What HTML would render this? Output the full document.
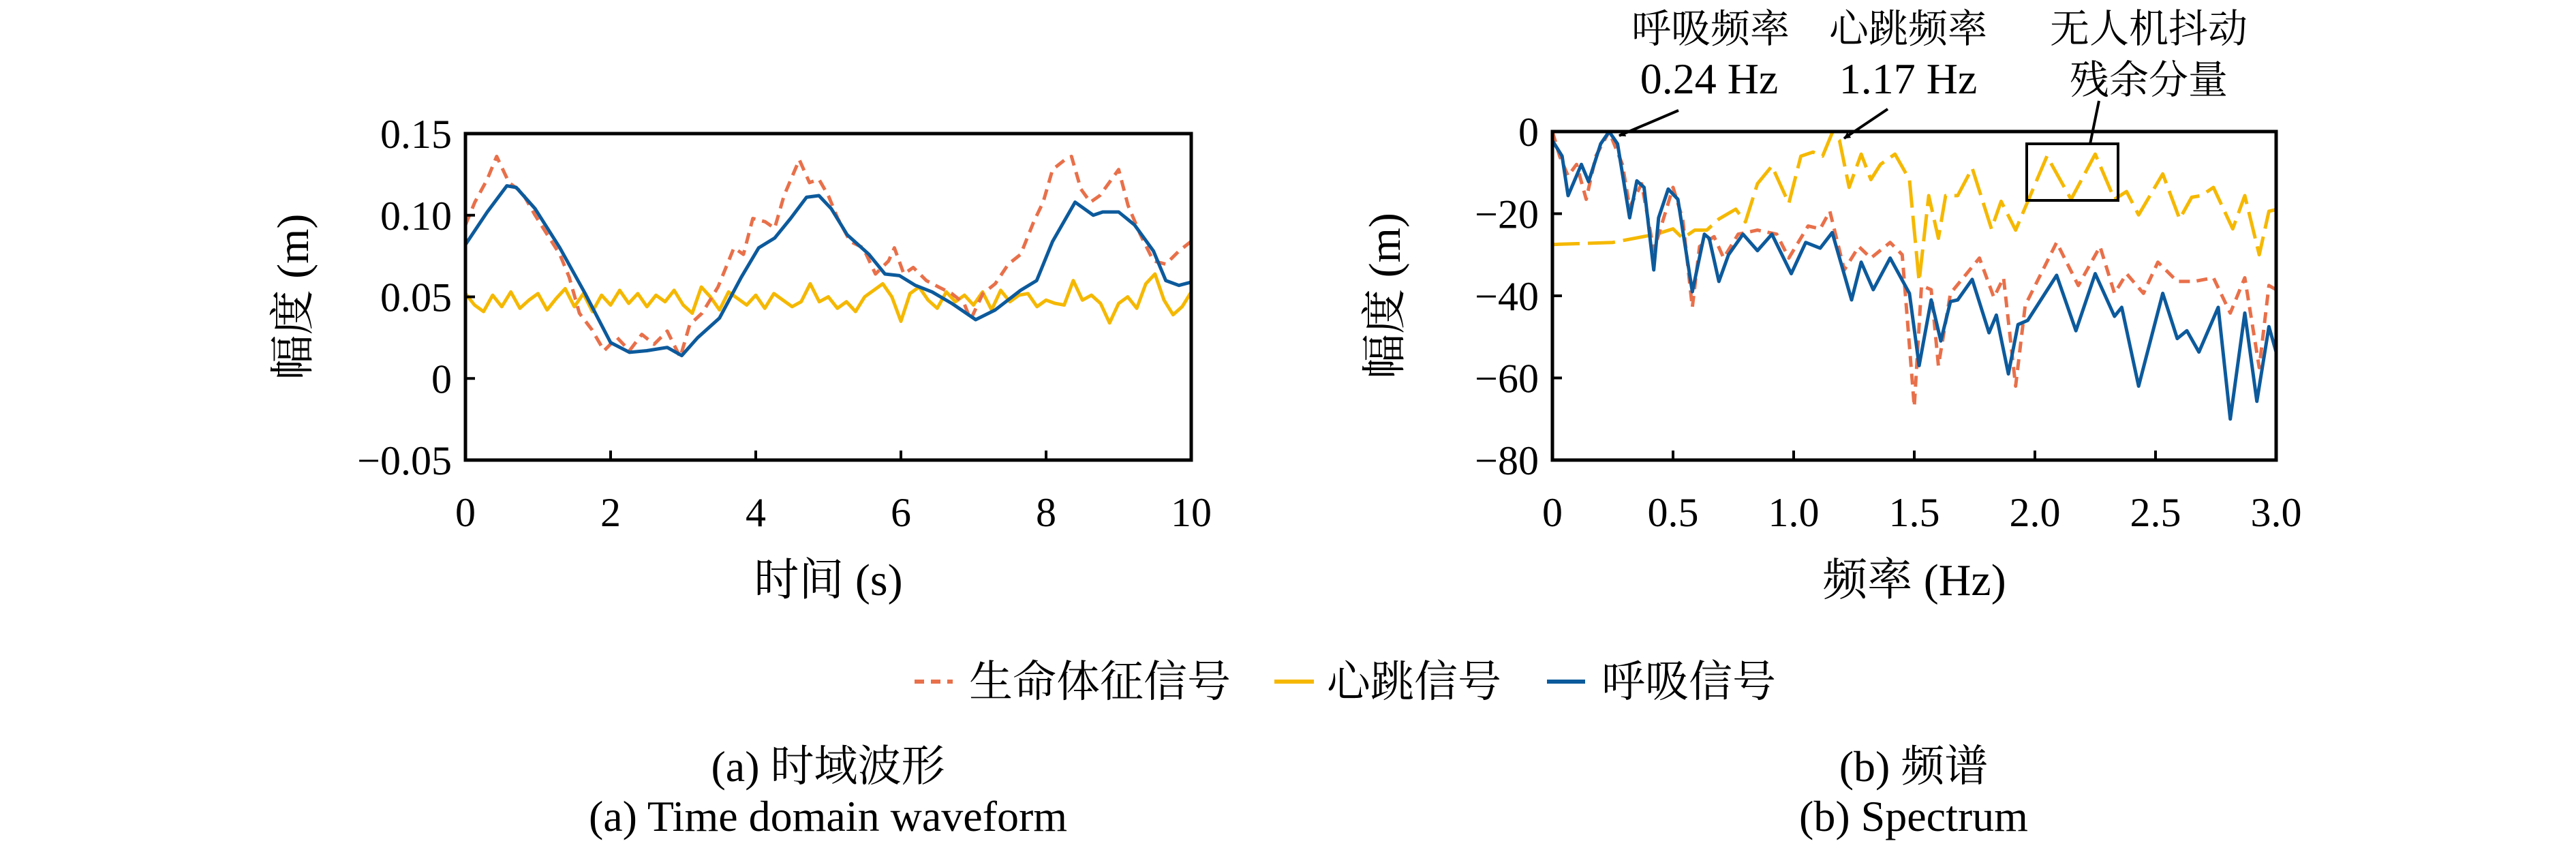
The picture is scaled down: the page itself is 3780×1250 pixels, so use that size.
<!DOCTYPE html>
<html><head><meta charset="utf-8"><style>
html,body{margin:0;padding:0;background:#fff;}
svg{display:block;}
text{font-family:"Liberation Serif","Noto Serif CJK SC",serif;fill:#000;}
</style></head><body>
<svg id="fig" width="3780" height="1250" xmlns="http://www.w3.org/2000/svg">
<defs><marker id="ah" markerWidth="10" markerHeight="10" refX="9" refY="5" orient="auto" markerUnits="userSpaceOnUse" viewBox="0 0 10 10"><path d="M0,0 L10,5 L0,10 z" fill="#000"/></marker></defs>
<g id="left"></g>
<g id="right"></g>
<g font-size="64">
 <line x1="1342" y1="1000" x2="1398" y2="1000" stroke="#E8704A" stroke-width="6" stroke-dasharray="14,10"/>
 <text x="1422" y="1022">生命体征信号</text>
 <line x1="1870" y1="1000" x2="1928" y2="1000" stroke="#F5B800" stroke-width="6"/>
 <text x="1947" y="1022">心跳信号</text>
 <line x1="2270" y1="1000" x2="2326" y2="1000" stroke="#0C5A9C" stroke-width="6"/>
 <text x="2350" y="1022">呼吸信号</text>
</g>
<g font-size="64" text-anchor="middle">
 <text x="1215" y="1146">(a) 时域波形</text>
 <text x="1215" y="1219">(a) Time domain waveform</text>
 <text x="2808" y="1146">(b) 频谱</text>
 <text x="2808" y="1219">(b) Spectrum</text>
</g>
<g text-anchor="middle">
 <text x="2510" y="62" font-size="58">呼吸频率</text>
 <text x="2508" y="137" font-size="64">0.24 Hz</text>
 <text x="2800" y="62" font-size="58">心跳频率</text>
 <text x="2800" y="137" font-size="64">1.17 Hz</text>
 <text x="3153" y="62" font-size="58">无人机抖动</text>
 <text x="3153" y="137" font-size="58">残余分量</text>
 <line x1="2463" y1="162" x2="2376" y2="199" stroke="#000" stroke-width="4" marker-end="url(#ah)"/>
 <line x1="2770" y1="160" x2="2706" y2="203" stroke="#000" stroke-width="4" marker-end="url(#ah)"/>
 <rect x="2974" y="211" width="134" height="83" fill="none" stroke="#000" stroke-width="4"/>
 <line x1="3080" y1="148" x2="3067" y2="211" stroke="#000" stroke-width="4"/>
</g>
</svg>
<script>
// ---- Left chart data ----
const tBreath=[0,0.3,0.57,0.7,0.96,1.3,1.65,2.0,2.26,2.5,2.78,2.98,3.2,3.5,3.8,4.04,4.26,4.48,4.7,4.87,5.04,5.26,5.56,5.78,5.98,6.2,6.43,6.7,7.03,7.3,7.65,7.87,8.09,8.4,8.65,8.78,9.0,9.22,9.48,9.65,9.83,10];
const vBreath=[0.082,0.102,0.118,0.117,0.104,0.080,0.052,0.022,0.016,0.017,0.019,0.014,0.025,0.037,0.062,0.080,0.086,0.098,0.111,0.112,0.104,0.088,0.076,0.064,0.063,0.057,0.053,0.046,0.036,0.042,0.054,0.060,0.084,0.108,0.100,0.102,0.102,0.094,0.078,0.060,0.057,0.059];
const tVital=[0,0.13,0.3,0.43,0.6,0.78,0.96,1.13,1.3,1.43,1.57,1.74,1.91,2.09,2.26,2.43,2.6,2.78,2.96,3.09,3.26,3.48,3.7,3.83,3.96,4.13,4.26,4.39,4.6,4.74,4.87,5.0,5.13,5.3,5.48,5.65,5.83,5.91,6.04,6.17,6.35,6.52,6.7,6.87,6.96,7.13,7.3,7.48,7.65,7.83,7.96,8.09,8.26,8.35,8.48,8.61,8.74,8.87,9.0,9.13,9.3,9.48,9.65,9.83,10];
const vVital=[0.094,0.108,0.122,0.136,0.120,0.114,0.100,0.088,0.076,0.062,0.040,0.030,0.017,0.025,0.017,0.027,0.021,0.029,0.013,0.033,0.040,0.056,0.080,0.076,0.098,0.096,0.092,0.112,0.134,0.120,0.122,0.112,0.098,0.084,0.080,0.064,0.072,0.080,0.064,0.068,0.060,0.056,0.052,0.046,0.036,0.052,0.058,0.070,0.076,0.096,0.108,0.128,0.134,0.136,0.116,0.108,0.112,0.120,0.128,0.106,0.088,0.072,0.070,0.078,0.084];
const tHeart=[0,0.125,0.25,0.375,0.5,0.625,0.75,0.875,1,1.125,1.25,1.375,1.5,1.625,1.75,1.875,2,2.125,2.25,2.375,2.5,2.625,2.75,2.875,3,3.125,3.25,3.375,3.5,3.625,3.75,3.875,4,4.125,4.25,4.375,4.5,4.625,4.75,4.875,5,5.125,5.25,5.375,5.5,5.625,5.75,5.875,6,6.125,6.25,6.375,6.5,6.625,6.75,6.875,7,7.125,7.25,7.375,7.5,7.625,7.75,7.875,8,8.125,8.25,8.375,8.5,8.625,8.75,8.875,9,9.125,9.25,9.375,9.5,9.625,9.75,9.875,10];
const vHeart=[0.052,0.045,0.041,0.051,0.044,0.053,0.043,0.048,0.052,0.042,0.049,0.055,0.044,0.052,0.041,0.051,0.045,0.054,0.046,0.052,0.044,0.051,0.047,0.054,0.045,0.040,0.056,0.050,0.042,0.053,0.049,0.045,0.051,0.043,0.052,0.048,0.044,0.047,0.058,0.047,0.050,0.043,0.047,0.041,0.050,0.054,0.058,0.050,0.035,0.052,0.056,0.048,0.043,0.053,0.047,0.051,0.045,0.053,0.042,0.054,0.047,0.051,0.052,0.044,0.048,0.046,0.045,0.060,0.048,0.051,0.046,0.034,0.046,0.050,0.043,0.058,0.064,0.048,0.039,0.044,0.053];
const xTicksL=[0,2,4,6,8,10];
const yTicksL=[-0.05,0,0.05,0.10,0.15];
const yLabelsL=["\u22120.05","0","0.05","0.10","0.15"];
// ---- Right chart data ----
const fBreath=[0,0.04,0.065,0.12,0.15,0.2,0.235,0.27,0.32,0.35,0.38,0.42,0.44,0.48,0.52,0.58,0.63,0.65,0.69,0.73,0.79,0.85,0.91,0.99,1.05,1.11,1.16,1.24,1.28,1.33,1.40,1.48,1.52,1.57,1.61,1.65,1.68,1.74,1.81,1.84,1.89,1.93,1.97,2.09,2.17,2.25,2.33,2.36,2.43,2.53,2.59,2.63,2.68,2.76,2.81,2.87,2.92,2.97,3.0];
const sBreath=[-2.2,-6,-15.6,-8,-12.2,-3,0,-3,-21,-12,-13.6,-33.7,-21,-14,-16.5,-39,-25,-26,-36.5,-30,-25,-29,-25,-34.6,-27,-28.4,-24.6,-41,-31.8,-38.5,-30.8,-39.4,-57,-41,-51,-41.4,-41,-36,-49,-44.7,-59,-47,-46,-35,-48.5,-34.6,-45,-42.8,-62,-39.4,-50.4,-48.5,-53.7,-42.8,-70,-44.2,-65.7,-47.5,-53.7];
const fVital=[0,0.03,0.065,0.1,0.14,0.18,0.235,0.29,0.32,0.37,0.42,0.5,0.54,0.58,0.61,0.67,0.71,0.77,0.85,0.93,0.98,1.06,1.11,1.15,1.21,1.27,1.32,1.4,1.45,1.50,1.53,1.57,1.60,1.65,1.77,1.83,1.87,1.92,1.96,2.09,2.18,2.27,2.33,2.38,2.45,2.51,2.59,2.66,2.74,2.81,2.87,2.93,2.97,3.0];
const sVital=[0,-6,-10.8,-8,-16.5,-6,0,-8,-18.4,-12.7,-29,-13.6,-21.3,-42.8,-28,-25.6,-30.8,-25,-24,-25,-30.8,-23,-23.7,-19.4,-33.7,-28,-30.8,-27,-30,-67,-37.5,-38.5,-57,-39.4,-30.8,-40.4,-35.6,-62,-42.3,-27,-37.5,-28,-39.4,-34.6,-39.4,-31.8,-36.5,-36.5,-35.6,-44.2,-35.6,-57.5,-37.5,-38.5];
const fHeart=[0,0.25,0.43,0.5,0.54,0.59,0.64,0.69,0.76,0.80,0.85,0.91,0.98,1.03,1.08,1.12,1.16,1.19,1.23,1.28,1.32,1.36,1.42,1.48,1.52,1.56,1.6,1.63,1.68,1.74,1.82,1.86,1.92,2.05,2.15,2.25,2.33,2.38,2.43,2.53,2.60,2.65,2.69,2.74,2.82,2.87,2.93,2.97,3.0];
const sHeart=[-27.5,-27,-25,-23.7,-26,-24,-24,-21.3,-18.9,-22,-12.7,-8.4,-17.5,-6,-5,-6,-0.3,-2.2,-13.6,-5.5,-11.7,-8,-5.5,-11.7,-36.5,-15.6,-26,-15.6,-15.6,-8.9,-23.7,-17,-24,-6,-16.5,-5.5,-16.5,-14.6,-20.3,-10.3,-21.3,-16,-15.6,-13.6,-23.7,-15.6,-30,-19.4,-19];
const xTicksR=[0,0.5,1.0,1.5,2.0,2.5,3.0];
const xLabelsR=["0","0.5","1.0","1.5","2.0","2.5","3.0"];
const yTicksR=[-80,-60,-40,-20,0];
const yLabelsR=["\u221280","\u221260","\u221240","\u221220","0"];

const NS="http://www.w3.org/2000/svg";
function mk(parent,tag,attrs){const e=document.createElementNS(NS,tag);for(const k in attrs)e.setAttribute(k,attrs[k]);parent.appendChild(e);return e;}

function drawChart(g,box,xd,yd,xt,xl,yt,yl,series,xlab,ylab,ylabX){
  const sx=v=>box.x0+(v-xd[0])/(xd[1]-xd[0])*(box.x1-box.x0);
  const sy=v=>box.y1-(v-yd[0])/(yd[1]-yd[0])*(box.y1-box.y0);
  const clip=mk(g,'clipPath',{id:g.id+'-clip'});
  mk(clip,'rect',{x:box.x0,y:box.y0-4,width:box.x1-box.x0,height:box.y1-box.y0+8});
  series.forEach(s=>{
    const pts=s.x.map((v,i)=>sx(v).toFixed(1)+','+sy(s.y[i]).toFixed(1)).join(' ');
    const pl=mk(g,'polyline',{points:pts,fill:'none',stroke:s.color,'stroke-width':5,'stroke-linejoin':'round','clip-path':'url(#'+g.id+'-clip)'});
    if(s.dash)pl.setAttribute('stroke-dasharray',s.dash);
    
    
  });
  const fr=mk(g,'rect',{x:box.x0,y:box.y0,width:box.x1-box.x0,height:box.y1-box.y0,fill:'none',stroke:'#000','stroke-width':5});
  
  
  xt.forEach((v,i)=>{
    const tk=mk(g,'line',{x1:sx(v),x2:sx(v),y1:box.y1,y2:box.y1-14,stroke:'#000','stroke-width':4});
    
    
    const t=mk(g,'text',{x:sx(v),y:box.y1+97,'font-size':60,'text-anchor':'middle'});
    t.textContent=xl[i];
    
    
  });
  yt.forEach((v,i)=>{
    const tk=mk(g,'line',{x1:box.x0,x2:box.x0+14,y1:sy(v),y2:sy(v),stroke:'#000','stroke-width':4});
    
    
    const t=mk(g,'text',{x:box.x0-20,y:sy(v)+21,'font-size':60,'text-anchor':'end'});
    t.textContent=yl[i];
    
    
  });
  const xa=mk(g,'text',{x:(box.x0+box.x1)/2,y:box.y1+198,'font-size':66,'text-anchor':'middle'});
  xa.textContent=xlab;
  
  
  const cy=(box.y0+box.y1)/2;
  const ya=mk(g,'text',{x:ylabX,y:cy,'font-size':66,'text-anchor':'middle',transform:'rotate(-90 '+ylabX+' '+cy+')'});
  ya.textContent=ylab;
  
  
}
drawChart(document.getElementById('left'),{x0:683,x1:1748,y0:196,y1:675},[0,10],[-0.05,0.15],
  xTicksL,xTicksL.map(String),yTicksL,yLabelsL,
  [{x:tHeart,y:vHeart,color:'#F5B800',name:'heart-signal-line'},
   {x:tVital,y:vVital,color:'#E8704A',dash:'16,10',name:'vital-signal-line'},
   {x:tBreath,y:vBreath,color:'#0C5A9C',name:'breath-signal-line'}],
  '时间 (s)','幅度 (m)',452);
drawChart(document.getElementById('right'),{x0:2278,x1:3340,y0:193,y1:675},[0,3],[-80,0],
  xTicksR,xLabelsR,yTicksR,yLabelsR,
  [{x:fHeart,y:sHeart,color:'#F5B800',dash:'40,12',name:'heart-spectrum-line'},
   {x:fVital,y:sVital,color:'#E8704A',dash:'16,10',name:'vital-spectrum-line'},
   {x:fBreath,y:sBreath,color:'#0C5A9C',name:'breath-spectrum-line'}],
  '频率 (Hz)','幅度 (m)',2054);
</script>
</body></html>
